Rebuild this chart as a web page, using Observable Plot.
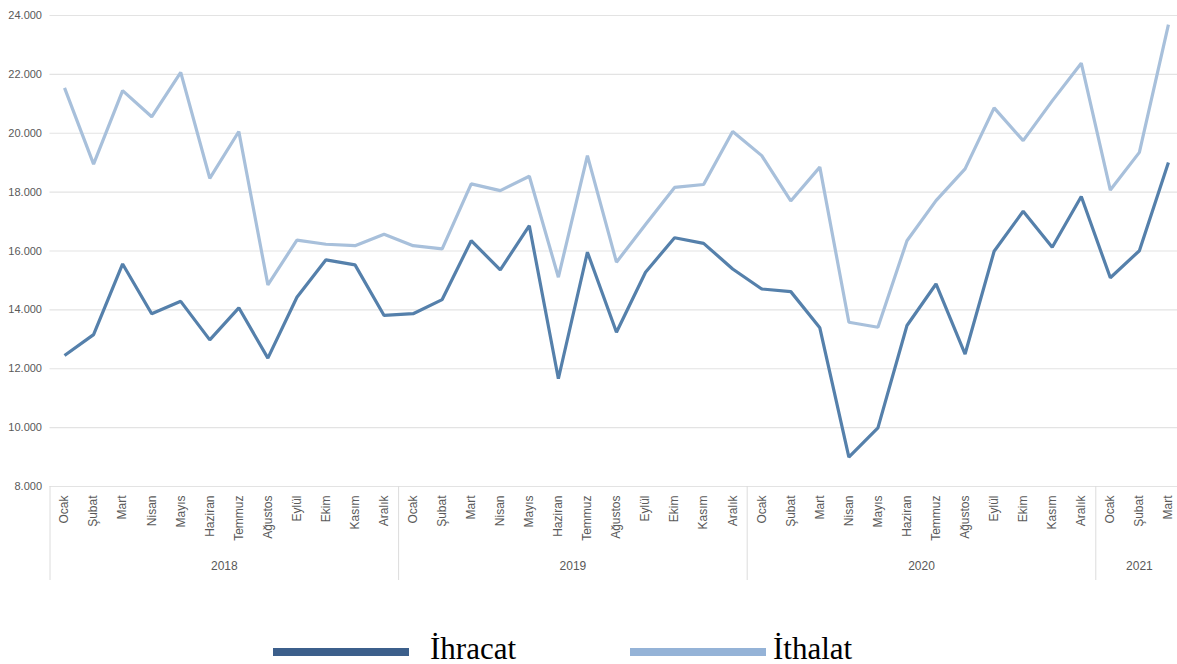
<!DOCTYPE html>
<html>
<head>
<meta charset="utf-8">
<script src="https://cdn.jsdelivr.net/npm/d3@7"></script>
<script src="https://cdn.jsdelivr.net/npm/@observablehq/plot@0.6"></script>
<style>
  html, body { margin: 0; padding: 0; background: #fff; }
  #chart svg { display: block; }
  #legend { position: relative; width: 1177px; height: 64px; font-family: "Liberation Serif", "Times New Roman", serif; }
  .sw { position: absolute; height: 8px; }
  .lt { position: absolute; font-size: 30px; line-height: 30px; color: #000; }
</style>
</head>
<body>
<div id="chart"></div>
<div id="legend"></div>
<script>
const months = ["Ocak","Şubat","Mart","Nisan","Mayıs","Haziran","Temmuz","Ağustos","Eylül","Ekim","Kasım","Aralık"];
const years = ["2018","2019","2020","2021"];
const monthsPerYear = [12, 12, 12, 3];
const yTicks = [8000, 10000, 12000, 14000, 16000, 18000, 20000, 22000, 24000];

const ihracat = [
  12450, 13160, 15560, 13870, 14290, 12980, 14070, 12360, 14430, 15700, 15530, 13810,
  13870, 14350, 16350, 15360, 16860, 11660, 15960, 13240, 15280, 16450, 16260, 15390,
  14710, 14620, 13390, 9000, 9990, 13470, 14880, 12500, 15990, 17350, 16130, 17850,
  15090, 16010, 19010
];
const ithalat = [
  21540, 18950, 21450, 20560, 22070, 18470, 20060, 14850, 16370, 16230, 16180, 16570,
  16180, 16070, 18280, 18050, 18540, 15110, 19240, 15620, 16900, 18160, 18260, 20060,
  19240, 17700, 18850, 13580, 13410, 16350, 17710, 18790, 20860, 19750, 21100, 22380,
  18070, 19350, 23690
];

const seriesNames = ["İhracat", "İthalat"];
const seriesColors = ["#5580ab", "#a8c0db"];
const legendColors = ["#3c5f8b", "#95b3d7"];

// build period table
const periods = [];
years.forEach((y, k) => {
  for (let m = 0; m < monthsPerYear[k]; m++) periods.push({year: y, month: months[m]});
});
const idx = periods.map((_, i) => i);
const data = [];
periods.forEach((p, i) => {
  data.push({i, series: seriesNames[0], value: ihracat[i]});
  data.push({i, series: seriesNames[1], value: ithalat[i]});
});

// year groups
const groupStart = [], groupCenter = [];
let acc = 0;
monthsPerYear.forEach(n => { groupStart.push(acc - 0.5); groupCenter.push(acc + (n - 1) / 2); acc += n; });

const fmt = d => d3.format(",")(d).replace(/,/g, ".");
const axisFont = "'Liberation Sans', Arial, sans-serif";

const W = 1177, H = 600;
const n = periods.length;
const plot = Plot.plot({
  width: W,
  height: H,
  marginLeft: 49.5,
  marginRight: 0,
  marginTop: 15,
  marginBottom: H - 486,
  style: { fontFamily: axisFont, background: "#fff", overflow: "hidden" },
  x: { type: "linear", domain: [-0.5, n - 0.5], range: [49.5, 49.5 + n * 29.05] },
  y: { domain: [8000, 24000] },
  marks: [
    Plot.gridY(yTicks, { stroke: "#e3e3e3", strokeOpacity: 1, strokeWidth: 1.2 }),
    Plot.axisY(yTicks, { tickSize: 0, tickPadding: 8, tickFormat: fmt, fontSize: 11, fill: "#595959", label: null }),
    Plot.axisX(groupStart, { tickSize: 94, tickFormat: () => "", stroke: "#dcdcdc", label: null }),
    Plot.axisX(idx, { tickSize: 0, tickPadding: 9, tickRotate: -90, tickFormat: i => periods[i].month, fontSize: 12, fill: "#595959", label: null }),
    Plot.axisX(groupCenter, { tickSize: 0, tickPadding: 75, tickFormat: d => years[groupCenter.indexOf(d)], fontSize: 12, fill: "#595959", label: null }),
    Plot.line(data, {
      x: "i", y: "value", z: "series",
      stroke: d => seriesColors[seriesNames.indexOf(d.series)],
      strokeWidth: 3.2, strokeLinejoin: "miter", strokeLinecap: "butt"
    })
  ]
});
document.getElementById("chart").appendChild(plot);

// legend
const legend = document.getElementById("legend");
const legendPos = [{sw: 273, tx: 430}, {sw: 630, tx: 773}];
seriesNames.forEach((s, k) => {
  const sw = document.createElement("div");
  sw.className = "sw";
  sw.style.left = legendPos[k].sw + "px";
  sw.style.width = "136px";
  sw.style.top = "48px";
  sw.style.background = legendColors[k];
  legend.appendChild(sw);
  const t = document.createElement("div");
  t.className = "lt";
  t.style.left = legendPos[k].tx + "px";
  t.style.top = "34px";
  t.style.fontSize = "31px";
  t.textContent = s;
  legend.appendChild(t);
});
</script>
</body>
</html>
